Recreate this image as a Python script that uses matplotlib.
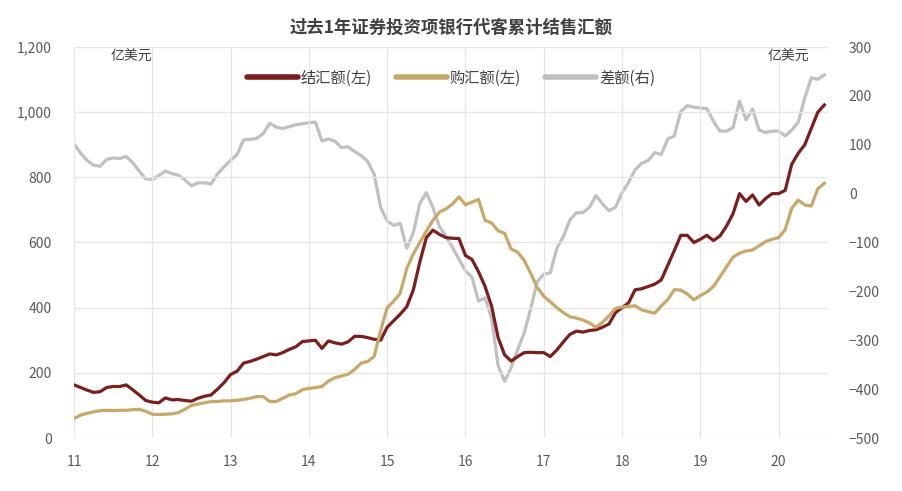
import numpy as np
import matplotlib
matplotlib.use('Agg')
import matplotlib.pyplot as plt

plt.rcParams['font.family'] = ['Noto Sans CJK SC', 'DejaVu Sans']

# 月度数据: 2011年1月 - 2020年8月 (亿美元)
start_year = 11
jiehui = [163, 155, 147, 140, 142, 155, 158, 158, 163, 148, 132, 115,
          110, 108, 123, 117, 118, 115, 113, 122, 128, 132, 150, 170,
          195, 205, 230, 235, 242, 250, 258, 255, 262, 272, 280, 296,
          298, 300, 275, 298, 292, 288, 295, 312, 312, 308, 303, 300,
          340, 360, 380, 403, 454, 540, 615, 638, 625, 615, 613, 612,
          560, 548, 510, 465, 405, 308, 255, 236, 250, 262, 263, 262,
          262, 250, 270, 295, 318, 328, 325, 330, 332, 340, 350, 385,
          400, 415, 455, 458, 465, 472, 485, 530, 575, 622, 622, 600,
          610, 622, 606, 620, 650, 688, 750, 726, 746, 715, 735, 750,
          750, 760, 840, 874, 900, 950, 1000, 1022]
gouhui = [60, 70, 76, 80, 84, 85, 84, 85, 85, 87, 88, 82,
          73, 72, 73, 74, 78, 88, 100, 104, 108, 112, 112, 114,
          114, 116, 118, 122, 127, 127, 112, 112, 122, 132, 136, 148,
          152, 155, 158, 175, 185, 190, 196, 210, 230, 235, 250, 330,
          400, 420, 445, 520, 565, 600, 635, 668, 693, 703, 718, 740,
          716, 724, 732, 668, 660, 636, 628, 580, 570, 545, 505, 462,
          435, 418, 400, 385, 372, 368, 362, 353, 340, 355, 375, 398,
          402, 404, 406, 393, 388, 383, 405, 425, 455, 454, 442, 424,
          437, 448, 465, 495, 525, 555, 567, 574, 577, 590, 603, 610,
          615, 640, 705, 730, 715, 712, 765, 782]
chae = [102, 83, 68, 58, 56, 70, 73, 72, 76, 63, 46, 30,
        29, 37, 46, 41, 38, 28, 16, 22, 22, 20, 40, 55,
        68, 80, 110, 111, 113, 123, 144, 136, 133, 137, 141, 143,
        145, 146, 108, 112, 107, 94, 96, 86, 78, 66, 40, -28,
        -56, -65, -61, -112, -80, -20, 2, -28, -67, -87, -110, -134,
        -158, -171, -220, -213, -255, -352, -384, -356, -319, -285, -235, -180,
        -165, -162, -112, -88, -54, -39, -39, -28, -4, -21, -35, -28,
        2, 23, 49, 62, 68, 84, 80, 112, 118, 168, 180, 177,
        175, 174, 148, 128, 128, 135, 189, 151, 173, 130, 125, 128,
        128, 118, 130, 146, 196, 237, 234, 243]
year_labels = ['11', '12', '13', '14', '15', '16', '17', '18', '19', '20']

x = start_year + np.arange(len(jiehui)) / 12.0

c_red = '#7b1e1e'
c_gold = '#c8a869'
c_gray = '#c0c0c0'
txt = '#404040'

fig = plt.figure(figsize=(9.02, 4.91), dpi=100)
ax = fig.add_axes([74 / 902, 1 - 438 / 491, (828 - 74) / 902, (438 - 47) / 491])
ax2 = ax.twinx()

l3, = ax2.plot(x, chae, color=c_gray, lw=2.3, label='差额(右)', zorder=2)
l1, = ax.plot(x, jiehui, color=c_red, lw=2.3, label='结汇额(左)', zorder=3)
l2, = ax.plot(x, gouhui, color=c_gold, lw=2.3, label='购汇额(左)', zorder=3)

# 左轴画在上面, 灰线在下面
ax.set_zorder(ax2.get_zorder() + 1)
ax.patch.set_visible(False)

ax.set_xlim(11, 20.63)
ax.set_ylim(0, 1200)
ax2.set_ylim(-500, 300)
ax.set_yticks(range(0, 1201, 200))
ax.set_yticklabels(['{:,}'.format(v) for v in range(0, 1201, 200)])
ax2.set_yticks(range(-500, 301, 100))
ax.set_xticks(range(11, 21))
ax.set_xticklabels(year_labels)

ax.grid(True, color='#e6e6e6', lw=1)
ax.set_axisbelow(True)
for a in (ax, ax2):
    for s in a.spines.values():
        s.set_visible(False)
    a.tick_params(length=0, labelsize=10, colors='#595959')
ax.tick_params(axis='y', pad=16)
ax2.tick_params(axis='y', pad=15)
ax.tick_params(axis='x', pad=12)

ax.text(0.0756, 0.975, '亿美元', transform=ax.transAxes, fontsize=10, color=txt,
        ha='center', va='center')
ax.text(0.948, 0.975, '亿美元', transform=ax.transAxes, fontsize=10, color=txt,
        ha='center', va='center')

fig.text(0.5, 1 - 28 / 491, '过去1年证券投资项银行代客累计结售汇额', fontsize=12.5,
         fontweight='bold', color=txt, ha='center', va='center')

leg = ax.legend(handles=[l1, l2, l3], loc='center', bbox_to_anchor=(0.5, 0.921),
                ncol=3, frameon=False, fontsize=11, handlelength=3.3,
                handletextpad=0.2, columnspacing=1.6)
for h in leg.get_lines():
    h.set_linewidth(4)
    h.set_solid_capstyle('round')
for t in leg.get_texts():
    t.set_color(txt)

fig.savefig('out.png', dpi=100)
